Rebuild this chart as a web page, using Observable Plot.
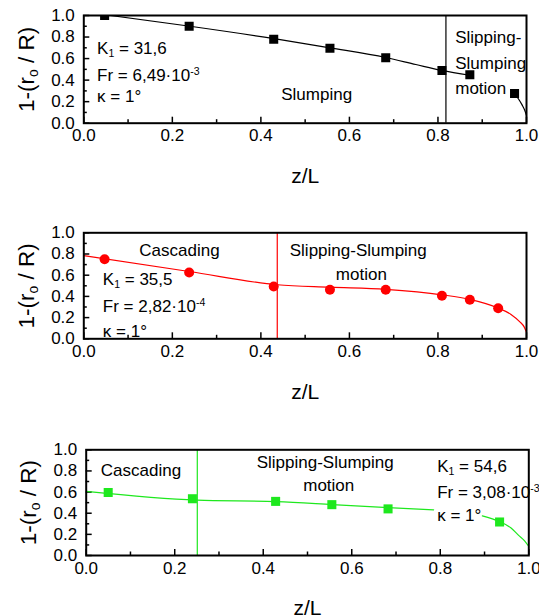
<!DOCTYPE html>
<html><head><meta charset="utf-8">
<script src="https://cdn.jsdelivr.net/npm/d3@7"></script>
<script src="https://cdn.jsdelivr.net/npm/@observablehq/plot@0.6"></script>
<style>
body{margin:0;background:#fff;font-family:"Liberation Sans",Arial,sans-serif;}
#chart svg{display:block;}
</style></head><body><div id="chart"></div>
<script>
// ---- shared axis ticks ----
const majorTicks = [0, 0.2, 0.4, 0.6, 0.8, 1.0];
const minorTicks = [0.1, 0.3, 0.5, 0.7, 0.9];
const xLabel = "z/L";
const yLabel = "1-(r_{o} / R)";

// ---- panel 1 (black squares) ----
const p1X = [0.047, 0.238, 0.429, 0.556, 0.682, 0.809, 0.872, 0.973];
const p1Y = [1.0, 0.90, 0.78, 0.695, 0.607, 0.49, 0.45, 0.275];
const p1LineX = [0.06, 0.24, 0.43, 0.556, 0.682, 0.75, 0.809, 0.872, 0.973, 0.982, 0.99, 0.996, 1.0];
const p1LineY = [1.0, 0.90, 0.785, 0.70, 0.61, 0.545, 0.49, 0.445, 0.275, 0.225, 0.17, 0.12, 0.07];
const p1LineSeg = [0, 0, 0, 0, 0, 0, 0, 0, 1, 1, 1, 1, 1];
const p1Boundary = 0.818;
const p1Notes = ["K_{1} = 31,6", "Fr = 6,49·10^{-3}", "κ = 1°", "Slumping", "Slipping-", "Slumping", "motion"];
const p1NoteX = [0.03, 0.03, 0.03, 0.526, 0.839, 0.839, 0.839];
const p1NoteY = [0.69, 0.44, 0.25, 0.266, 0.795, 0.557, 0.318];
const p1NoteAnchor = ["start", "start", "start", "middle", "start", "start", "start"];

// ---- panel 2 (red circles) ----
const p2X = [0.047, 0.238, 0.429, 0.556, 0.682, 0.809, 0.872, 0.936];
const p2Y = [0.75, 0.625, 0.494, 0.4625, 0.4625, 0.406, 0.369, 0.2875];
const p2LineX = [0, 0.238, 0.437, 0.556, 0.682, 0.809, 0.872, 0.936, 0.965, 0.985, 0.995, 1.0];
const p2LineY = [0.784, 0.635, 0.51, 0.487, 0.466, 0.415, 0.372, 0.29, 0.23, 0.16, 0.11, 0.06];
const p2LineSeg = [0, 0, 0, 0, 0, 0, 0, 0, 0, 0, 0, 0];
const p2Boundary = 0.437;
const p2Notes = ["Cascading", "Slipping-Slumping", "motion", "K_{1} = 35,5", "Fr = 2,82·10^{-4}", "κ = 1°"];
const p2NoteX = [0.216, 0.62, 0.627, 0.043, 0.043, 0.043];
const p2NoteY = [0.83, 0.83, 0.61, 0.556, 0.306, 0.07];
const p2NoteAnchor = ["middle", "middle", "middle", "start", "start", "start"];

// ---- panel 3 (green squares) ----
const p3X = [0.0497, 0.24, 0.428, 0.555, 0.682, 0.934];
const p3Y = [0.596, 0.537, 0.512, 0.481, 0.441, 0.317];
const p3LineX = [0, 0.25, 0.43, 0.556, 0.682, 0.785, 0.895, 0.934, 0.96, 0.977, 0.99, 1.0];
const p3LineY = [0.606, 0.523, 0.51, 0.482, 0.452, 0.432, 0.375, 0.32, 0.26, 0.19, 0.14, 0.085];
const p3LineSeg = [0, 0, 0, 0, 0, 0, 1, 1, 1, 1, 1, 1];
const p3Boundary = 0.251;
const p3Notes = ["Cascading", "Slipping-Slumping", "motion", "K_{1} = 54,6", "Fr = 3,08·10^{-3}", "κ = 1°"];
const p3NoteX = [0.033, 0.54, 0.548, 0.793, 0.793, 0.793];
const p3NoteY = [0.8, 0.876, 0.658, 0.845, 0.596, 0.38];
const p3NoteAnchor = ["start", "middle", "middle", "start", "start", "start"];

const FONT = "Liberation Sans, Arial, Helvetica, sans-serif";

function zipPts(xs, ys) { return xs.map((x, i) => ({x, y: ys[i]})); }
function zipLine(xs, ys, seg) { return xs.map((x, i) => ({x, y: ys[i], seg: seg[i]})); }
function zipNotes(t, xs, ys, a) { return t.map((s, i) => ({t: s, x: xs[i], y: ys[i], a: a[i]})); }

function richify(svg) {
  svg.querySelectorAll("text").forEach(t => {
    const tsp = [...t.querySelectorAll("tspan")];
    const nodes = tsp.length ? tsp : [t];
    nodes.forEach(n => {
      const s = n.textContent;
      if (!/[_^]\{/.test(s)) return;
      n.textContent = "";
      const re = /([_^])\{([^}]*)\}/g; let last = 0, m;
      while ((m = re.exec(s))) {
        if (m.index > last) n.appendChild(document.createTextNode(s.slice(last, m.index)));
        const ts = document.createElementNS("http://www.w3.org/2000/svg", "tspan");
        ts.setAttribute("font-size", "62%");
        ts.setAttribute("baseline-shift", m[1] === "_" ? "-25%" : "55%");
        ts.textContent = m[2];
        n.appendChild(ts);
        last = re.lastIndex;
      }
      if (last < s.length) n.appendChild(document.createTextNode(s.slice(last)));
    });
  });
}

function panel(cfg) {
  const {pts, line, color, symbol, r, vline, notes, height, mt, mb, ml, mr, clipDots} = cfg;
  const tk = {text: null, label: null, stroke: "black", strokeWidth: 1.5};
  const chart = Plot.plot({
    width: 539, height,
    marginTop: mt, marginBottom: mb, marginLeft: ml, marginRight: mr,
    style: {fontFamily: FONT, background: "white", overflow: "visible", color: "black"},
    x: {domain: [0, 1]},
    y: {domain: [0, 1]},
    marks: [
      Plot.axisX({ticks: majorTicks, tickSize: 0, tickPadding: 6, tickFormat: d3.format(".1f"), fontSize: 17, label: null}),
      Plot.axisY({ticks: majorTicks, tickSize: 0, tickPadding: 9, tickFormat: d3.format(".1f"), fontSize: 17, label: null}),
      Plot.axisX({ticks: majorTicks, tickSize: 6, dy: -6, ...tk}),
      Plot.axisX({ticks: minorTicks, tickSize: 3.5, dy: -3.5, ...tk}),
      Plot.axisY({ticks: majorTicks, tickSize: 6, dx: 6, ...tk}),
      Plot.axisY({ticks: minorTicks, tickSize: 3.5, dx: 3.5, ...tk}),
      Plot.ruleX([vline], {stroke: color, strokeWidth: 1.2}),
      Plot.line(line, {x: "x", y: "y", z: "seg", stroke: color, strokeWidth: 1.2, curve: "monotone-x", clip: true}),
      Plot.dot(pts, {x: "x", y: "y", symbol, r, fill: color, stroke: "none", clip: clipDots}),
      Plot.text(notes.filter(d => d.a === "start"), {x: "x", y: "y", text: "t", textAnchor: "start", fontSize: 17, fill: "black"}),
      Plot.text(notes.filter(d => d.a === "middle"), {x: "x", y: "y", text: "t", textAnchor: "middle", fontSize: 17, fill: "black"}),
      Plot.frame({stroke: "black", strokeWidth: 2}),
      Plot.text([xLabel], {frameAnchor: "bottom", dy: 53, fontSize: 21, textAnchor: "middle", lineAnchor: "middle"}),
      Plot.text([yLabel], {frameAnchor: "left", dx: -57, rotate: -90, fontSize: 22.5, textAnchor: "middle", lineAnchor: "middle"})
    ]
  });
  richify(chart);
  return chart;
}

const root = document.getElementById("chart");
root.appendChild(panel({
  pts: zipPts(p1X, p1Y), line: zipLine(p1LineX, p1LineY, p1LineSeg), color: "black",
  symbol: "square", r: 5.1, vline: p1Boundary, notes: zipNotes(p1Notes, p1NoteX, p1NoteY, p1NoteAnchor),
  height: 210, mt: 15, mb: 87.3, ml: 83.3, mr: 13, clipDots: true
}));
root.appendChild(panel({
  pts: zipPts(p2X, p2Y), line: zipLine(p2LineX, p2LineY, p2LineSeg), color: "#ff0000",
  symbol: "circle", r: 5, vline: p2Boundary, notes: zipNotes(p2Notes, p2NoteX, p2NoteY, p2NoteAnchor),
  height: 210, mt: 22.3, mb: 81.7, ml: 83.3, mr: 13, clipDots: false
}));
root.appendChild(panel({
  pts: zipPts(p3X, p3Y), line: zipLine(p3LineX, p3LineY, p3LineSeg), color: "#1ee81e",
  symbol: "square", r: 5.1, vline: p3Boundary, notes: zipNotes(p3Notes, p3NoteX, p3NoteY, p3NoteAnchor),
  height: 196, mt: 29.3, mb: 61, ml: 85.7, mr: 10.7, clipDots: false
}));
</script></body></html>
